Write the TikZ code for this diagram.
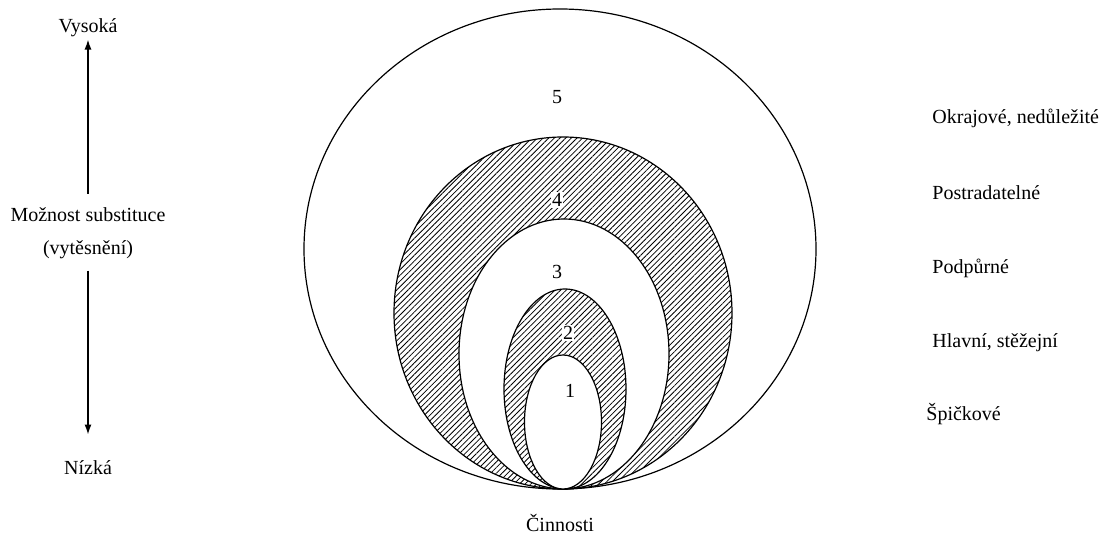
\documentclass[tikz,border=0pt]{standalone}
\usepackage{fontspec}
\setmainfont{Liberation Serif}
\usetikzlibrary{arrows.meta,patterns.meta}

\begin{document}
\begin{tikzpicture}[x=0.5pt, y=-0.5pt,
  lbl/.style={font=\fontsize{10}{12}\selectfont, inner sep=1pt},
  rlbl/.style={lbl, anchor=west},
  hatch/.style={draw=black, line width=0.6pt, pattern={Lines[angle=45,distance=2pt,line width=0.4pt]}},
  blank/.style={draw=black, line width=0.6pt, fill=white},
  updown/.style={-{Latex[length=5pt,width=3.5pt]}, line width=0.7pt}]

\useasboundingbox (0,0) rectangle (1110,534);

% nested ellipses, all touching at the bottom
\draw[blank] (560,249) ellipse [x radius=256, y radius=240];
\draw[hatch] (563,313) ellipse [x radius=169, y radius=176];
\draw[blank] (564,354) ellipse [x radius=105, y radius=135];
\draw[hatch] (565,389) ellipse [x radius=61, y radius=100];
\draw[blank] (563,422) ellipse [x radius=38.5, y radius=67];

\node[lbl] (n5) at (557,97) {5};
\node[lbl, fill=white, inner sep=0.5pt] (n4) at (557,200) {4};
\node[lbl] (n3) at (557,272) {3};
\node[lbl, fill=white, inner sep=0.5pt] (n2) at (568,333) {2};
\node[lbl] (n1) at (570,391) {1};
\node[lbl] (cinn) at (560,523) {Činnosti};

% scale on the left
\node[lbl] (vys) at (88,28) {Vysoká};
\node[lbl] (mozn) at (88,215) {Možnost substituce};
\node[lbl] (vyt) at (88,250) {(vytěsnění)};
\node[lbl] (niz) at (88,468) {Nízká};
\draw[updown, shorten <=6pt] (mozn.north) -- (vys.south);
\draw[updown, shorten <=4.5pt] (vyt.south) -- ([yshift=12pt]niz.north);

% labels on the right
\node[rlbl] (okr) at (930,118) {Okrajové, nedůležité};
\node[rlbl] (post) at (930,193) {Postradatelné};
\node[rlbl] (podp) at (930,268) {Podpůrné};
\node[rlbl] (hlav) at (930,343) {Hlavní, stěžejní};
\node[rlbl] (spic) at (924,414) {Špičkové};
\end{tikzpicture}
\end{document}
